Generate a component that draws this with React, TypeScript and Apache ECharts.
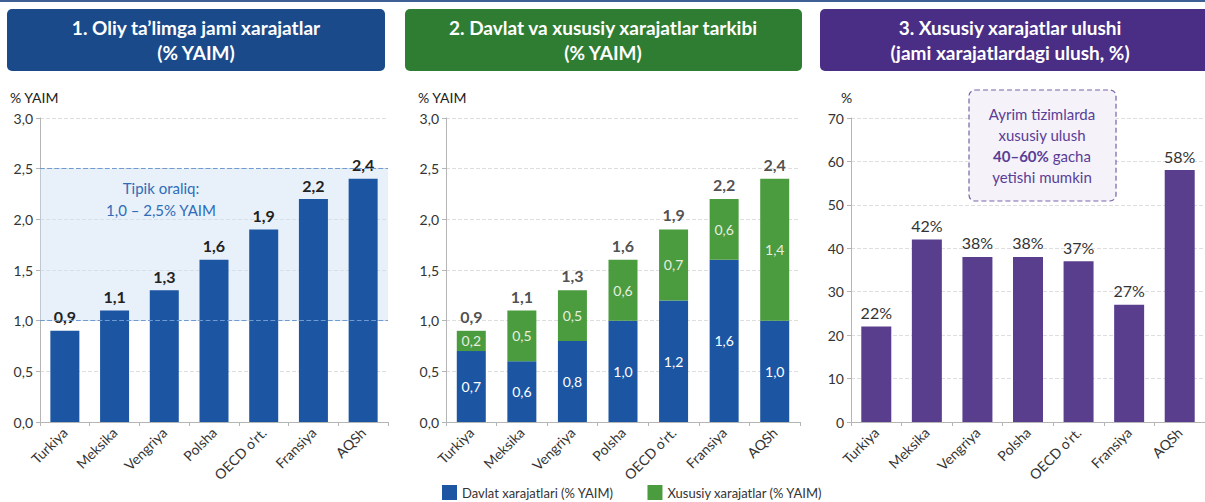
import React, { useEffect, useRef } from "react";
import * as echarts from "echarts";

const categories = ["Turkiya", "Meksika", "Vengriya", "Polsha", "OECD o'rt.", "Fransiya", "AQSh"];
const totalSpend = [0.9, 1.1, 1.3, 1.6, 1.9, 2.2, 2.4];
const publicSpend = [0.7, 0.6, 0.8, 1.0, 1.2, 1.6, 1.0];
const privateSpend = [0.2, 0.5, 0.5, 0.6, 0.7, 0.6, 1.4];
const privateShare = [22, 42, 38, 38, 37, 27, 58];
const typicalRange = [1.0, 2.5];
const titles = [
  "1. Oliy ta’limga jami xarajatlar\n(% YAIM)",
  "2. Davlat va xususiy xarajatlar tarkibi\n(% YAIM)",
  "3. Xususiy xarajatlar ulushi\n(jami xarajatlardagi ulush, %)",
];
const seriesNames = ["Davlat xarajatlari (% YAIM)", "Xususiy xarajatlar (% YAIM)"];

const FONT = "Lato, 'Open Sans', sans-serif";
const BLUE = "#1c56a3";
const GREEN = "#4b9b3f";
const PURPLE = "#5a3e8e";
const fmt1 = (v: number) => v.toFixed(1).replace(".", ",");

export default function App() {
  const ref = useRef<HTMLDivElement>(null);
  useEffect(() => {
    document.body.style.margin = "0";
    const chart = echarts.init(ref.current!, null, { renderer: "svg" });
    const grids = [
      { left: 40, top: 118, width: 348, height: 304 },
      { left: 446, top: 118, width: 354, height: 304 },
      { left: 851, top: 118, width: 358, height: 304 },
    ];
    const xAxes = grids.map((_, i) => ({
      type: "category",
      gridIndex: i,
      data: categories,
      axisLine: { lineStyle: { color: "#b5b5b5" } },
      axisTick: { show: true, length: 4, lineStyle: { color: "#b5b5b5" } },
      axisLabel: { rotate: 45, interval: 0, fontSize: 14, color: "#333", fontFamily: FONT, margin: 8 },
    }));
    const yBase = {
      axisLine: { show: true, lineStyle: { color: "#b5b5b5" } },
      axisTick: { show: true, length: 4, lineStyle: { color: "#b5b5b5" } },
      splitLine: { lineStyle: { color: "#dedede", type: "dashed" } },
      nameTextStyle: { fontSize: 14, color: "#222", fontFamily: FONT, align: "left" },
      nameGap: 14,
    };
    const yLabel = { fontSize: 14, color: "#333", fontFamily: FONT, margin: 7 };
    const yAxes = [
      { ...yBase, type: "value", gridIndex: 0, min: 0, max: 3, interval: 0.5, name: "% YAIM",
        nameTextStyle: { ...yBase.nameTextStyle, padding: [0, 0, 0, -30] },
        axisLabel: { ...yLabel, formatter: (v: number) => fmt1(v) } },
      { ...yBase, type: "value", gridIndex: 1, min: 0, max: 3, interval: 0.5, name: "% YAIM",
        nameTextStyle: { ...yBase.nameTextStyle, padding: [0, 0, 0, -28] },
        axisLabel: { ...yLabel, formatter: (v: number) => fmt1(v) } },
      { ...yBase, type: "value", gridIndex: 2, min: 0, max: 70, interval: 10, name: "%",
        nameTextStyle: { ...yBase.nameTextStyle, padding: [0, 0, 0, -10] },
        axisLabel: { ...yLabel } },
    ];
    const headerColors = ["#1a4a8a", "#2f7d32", "#4a2d84"];
    const headerBoxes = [
      { x: 7, w: 378, c: 196 },
      { x: 405, w: 397, c: 603 },
      { x: 820, w: 400, c: 1010 },
    ];
    const graphic: any[] = [
      { type: "rect", shape: { x: 0, y: 0, width: 1205, height: 2 }, style: { fill: "#3d5f95" } },
    ];
    headerBoxes.forEach((b, i) => {
      graphic.push({
        type: "rect",
        shape: { x: b.x, y: 9, width: b.w, height: 62, r: 5 },
        style: { fill: headerColors[i] },
      });
      graphic.push({
        type: "text",
        x: b.c,
        y: 40,
        style: {
          text: titles[i],
          fill: "#fff",
          font: `bold 19px ${FONT}`,
          align: "center",
          verticalAlign: "middle",
          lineHeight: 25,
        },
      });
    });
    graphic.push({
      type: "text",
      x: 161,
      y: 199,
      z: 10,
      style: {
        text: "Tipik oraliq:\n1,0 – 2,5% YAIM",
        fill: "#2f6cb8",
        font: `15px ${FONT}`,
        align: "center",
        verticalAlign: "middle",
        lineHeight: 22,
      },
    });
    graphic.push({
      type: "rect",
      z: 10,
      shape: { x: 969, y: 90, width: 147, height: 111, r: 6 },
      style: { fill: "#f5f2fa", stroke: "#7a62a8", lineWidth: 1.2, lineDash: [5, 3] },
    });
    graphic.push({
      type: "text",
      z: 11,
      x: 1042,
      y: 145,
      style: {
        text: "{n|Ayrim tizimlarda}\n{n|xususiy ulush}\n{b|40–60%}{n| gacha}\n{n|yetishi mumkin}",
        align: "center",
        verticalAlign: "middle",
        rich: {
          n: { fill: "#5a3d96", font: `15px ${FONT}`, lineHeight: 21 },
          b: { fill: "#5a3d96", font: `bold 15px ${FONT}`, lineHeight: 21 },
        },
      },
    });

    const option: any = {
      animation: false,
      backgroundColor: "#fff",
      textStyle: { fontFamily: FONT },
      grid: grids,
      xAxis: xAxes,
      yAxis: yAxes,
      legend: {
        data: seriesNames,
        left: 442,
        top: 485,
        padding: 0,
        itemWidth: 15,
        itemHeight: 15,
        itemGap: 34,
        icon: "rect",
        textStyle: { fontSize: 13, color: "#333", fontFamily: FONT },
      },
      graphic,
      series: [
        {
          type: "bar",
          name: "total",
          xAxisIndex: 0,
          yAxisIndex: 0,
          data: totalSpend,
          barWidth: 29,
          itemStyle: { color: BLUE },
          label: { show: true, position: "top", distance: 6, formatter: (p: any) => fmt1(p.value),
            fontSize: 16, fontWeight: "bold", color: "#222", fontFamily: FONT },
          markArea: {
            silent: true,
            itemStyle: { color: "rgba(205,222,243,0.45)" },
            data: [[{ yAxis: typicalRange[0] }, { yAxis: typicalRange[1] }]],
          },
          markLine: {
            silent: true,
            symbol: "none",
            label: { show: false },
            lineStyle: { color: "#6f9bd1", type: "dashed", width: 1.2 },
            data: typicalRange.map((v) => ({ yAxis: v })),
          },
        },
        {
          type: "bar",
          name: seriesNames[0],
          xAxisIndex: 1,
          yAxisIndex: 1,
          stack: "s",
          data: publicSpend,
          barWidth: 29,
          itemStyle: { color: BLUE },
          label: { show: true, position: "inside", formatter: (p: any) => fmt1(p.value),
            fontSize: 14, color: "#fff", fontFamily: FONT },
        },
        {
          type: "bar",
          name: seriesNames[1],
          xAxisIndex: 1,
          yAxisIndex: 1,
          stack: "s",
          data: privateSpend,
          barWidth: 29,
          itemStyle: { color: GREEN },
          label: { show: true, position: "inside", formatter: (p: any) => fmt1(p.value),
            fontSize: 14, color: "#e6efe0", fontFamily: FONT },
        },
        {
          type: "scatter",
          name: "totals2",
          xAxisIndex: 1,
          yAxisIndex: 1,
          data: totalSpend,
          symbolSize: 1,
          itemStyle: { color: "rgba(0,0,0,0)" },
          label: { show: true, position: "top", distance: 6, formatter: (p: any) => fmt1(p.value),
            fontSize: 16, fontWeight: "bold", color: "#222", fontFamily: FONT },
        },
        {
          type: "bar",
          name: "share",
          xAxisIndex: 2,
          yAxisIndex: 2,
          data: privateShare,
          barWidth: 30,
          itemStyle: { color: PURPLE },
          label: { show: true, position: "top", distance: 6, formatter: (p: any) => `${p.value}%`,
            fontSize: 16, color: "#333", fontFamily: FONT },
        },
      ],
    };
    chart.setOption(option);
    return () => chart.dispose();
  }, []);
  return <div ref={ref} style={{ width: 1205, height: 502 }} />;
}
